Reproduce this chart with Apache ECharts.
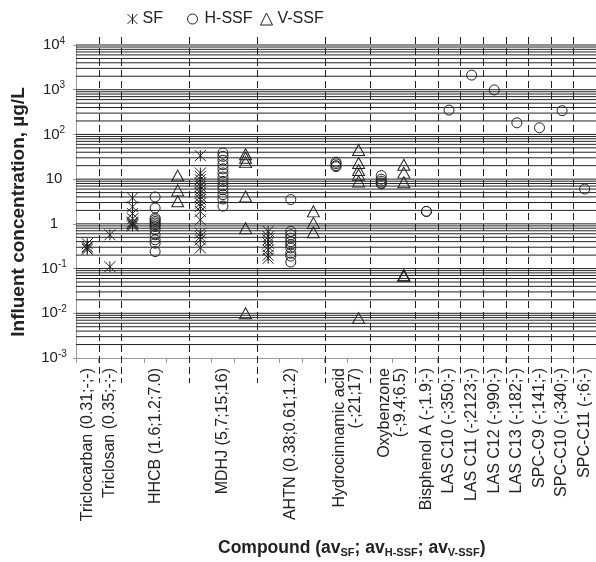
<!DOCTYPE html>
<html>
<head>
<meta charset="utf-8">
<script src="https://cdn.jsdelivr.net/npm/echarts@6/dist/echarts.min.js"></script>
<style>
  html, body { margin: 0; background: #fff; }
  #chart { width: 596px; height: 562px; }
</style>
</head>
<body>
<div id="chart"></div>
<script>
// compounds from left to right, label under the axis
var compounds = [
  "Triclocarban (0.31;-;-)",
  "Triclosan (0.35;-;-)",
  "HHCB (1.6;1.2;7.0)",
  "MDHJ (5,7;15;16)",
  "AHTN (0.38;0.61;1.2)",
  "Hydrocinnamic acid\n(-;21;17)",
  "Oxybenzone\n(-;9.4;6.5)",
  "Bisphenol A (-;1.9;-)",
  "LAS C10 (-;350;-)",
  "LAS C11 (-;2123;-)",
  "LAS C12 (-;990;-)",
  "LAS C13 (-;182;-)",
  "SPC-C9 (-;141;-)",
  "SPC-C10 (-;340;-)",
  "SPC-C11 (-;6;-)"
];

// influent concentrations (µg/L), one list per compound
var sfValues = [
  [0.36, 0.31, 0.27, 0.29],
  [0.57, 0.11],
  [3.8, 2.4, 1.7, 1.3, 1.1, 1.0, 0.9, 1.05, 0.95],
  [33.5, 13.7, 11.5, 9.7, 8.2, 6.9, 5.8, 4.9, 4.1, 3.5, 2.9, 2.45, 1.9, 1.23, 0.62, 0.52, 0.44, 0.29],
  [0.68, 0.52, 0.44, 0.37, 0.31, 0.26, 0.2, 0.17],
  [], [], [], [], [], [], [], [], [], []
];
var hssfValues = [
  [], [],
  [4.0, 2.26, 1.35, 1.24, 1.13, 1.04, 0.95, 0.87, 0.74, 0.57, 0.44, 0.37, 0.24],
  [38.5, 32.4, 26.4, 21.1, 17, 13.8, 11.2, 8.9, 7.1, 5.8, 4.5, 3.6, 2.5],
  [3.5, 0.68, 0.57, 0.48, 0.4, 0.34, 0.29, 0.22, 0.19, 0.14],
  [24, 22, 20, 19],
  [12, 10, 9, 7.8, 8.2],
  [1.9, 1.9],
  [350], [2123], [990], [182], [141], [340], [6]
];
var vssfValues = [
  [], [],
  [12, 5.6, 3.2],
  [36, 30, 24, 4.1, 0.8, 0.01],
  [1.9, 1.05, 0.65],
  [45, 23, 16, 12.6, 8.9, 0.0078],
  [21, 14, 8.5, 0.07, 0.07, 0.07],
  [], [], [], [], [], [], [], []
];

var seriesNames = ["SF", "H-SSF", "V-SSF"];
var yTickLabels = ["10{sup|-3}", "10{sup|-2}", "10{sup|-1}", "1", "10", "10{sup|2}", "10{sup|3}", "10{sup|4}"];

// one column per treatment that has data
var sets = [sfValues, hssfValues, vssfValues];
var points = [[], [], []];
var labelAt = [];
var bounds = [];
var col = 0;
compounds.forEach(function (name, i) {
  var start = col;
  sets.forEach(function (set, s) {
    if (!set[i].length) return;
    set[i].forEach(function (v) { points[s].push([col + 0.5, v]); });
    col++;
  });
  labelAt.push(start + (col - start) / 2);
  if (i > 0) bounds.push([start, 1]);
});
var xTicks = [];
for (var t = 0; t <= col; t++) xTicks.push(t);

// horizontal log grid: 1..9 in every decade
var gridLevels = [];
for (var e = -3; e <= 3; e++) {
  for (var k = 1; k <= 9; k++) {
    if (e === -3 && k === 1) continue;
    gridLevels.push([0, k * Math.pow(10, e)]);
  }
}
gridLevels.push([0, 10000]);

var font = "Liberation Sans, Arial, sans-serif";
var ink = "#222";
var star = "path://M0,0L10,10M10,0L0,10M5,0L5,10";
var symbols = [star, "circle", "triangle"];
var sizes = [11, 10, [12, 11]];

var chart = echarts.init(document.getElementById("chart"));

var scatter = seriesNames.map(function (n, s) {
  return {
    name: n,
    type: "scatter",
    z: 5,
    data: points[s],
    symbol: symbols[s],
    symbolSize: sizes[s],
    itemStyle: { color: "rgba(0,0,0,0)", borderColor: ink, borderWidth: 1, opacity: 1 }
  };
});

function legendAt(left, idx, w, h) {
  return {
    left: left,
    top: 6,
    itemWidth: w,
    itemHeight: h,
    selectedMode: false,
    textStyle: { fontSize: 16, color: ink, fontFamily: font },
    data: [{
      name: seriesNames[idx],
      icon: symbols[idx],
      itemStyle: { color: "rgba(0,0,0,0)", borderColor: ink, borderWidth: 1 }
    }]
  };
}

chart.setOption({
  animation: false,
  textStyle: { fontFamily: font },
  legend: [legendAt(122, 0, 10, 10), legendAt(182, 1, 14, 10), legendAt(255, 2, 12, 12)],
  grid: { left: 76, top: 45, width: 521, height: 313 },
  xAxis: {
    type: "value",
    min: 0,
    max: col,
    interval: 1,
    axisLine: { lineStyle: { color: "#999" } },
    axisTick: { customValues: xTicks, length: 5, lineStyle: { color: "#999" } },
    splitLine: { show: false },
    axisLabel: {
      customValues: labelAt,
      rotate: 90,
      margin: 10,
      fontSize: 16,
      color: ink,
      fontFamily: font,
      formatter: function (v) {
        var i = labelAt.indexOf(v);
        return i >= 0 ? compounds[i] : "";
      }
    }
  },
  yAxis: {
    type: "log",
    logBase: 10,
    min: 0.001,
    max: 10000,
    splitNumber: 7,
    axisLine: { show: true, lineStyle: { color: "#999" } },
    axisTick: { show: true, length: 3, lineStyle: { color: "#999" } },
    splitLine: { show: false },
    axisLabel: {
      align: "center",
      margin: 22,
      fontSize: 15,
      lineHeight: 18,
      color: ink,
      fontFamily: font,
      formatter: function (v) {
        return yTickLabels[Math.round(Math.log10(v)) + 3];
      },
      rich: {
        sup: { fontSize: 10, lineHeight: 8, verticalAlign: "top", color: ink, fontFamily: font }
      }
    }
  },
  graphic: [
    {
      type: "text",
      x: 19,
      y: 212,
      rotation: Math.PI / 2,
      style: {
        text: "Influent concentration, µg/L",
        fontSize: 19,
        fontWeight: "bold",
        fontFamily: font,
        fill: ink,
        align: "center",
        verticalAlign: "middle"
      }
    },
    {
      type: "text",
      x: 218,
      y: 538,
      style: {
        text: "Compound (av{sub|SF}; av{sub|H-SSF}; av{sub|V-SSF})",
        fontSize: 17.5,
        fontWeight: "bold",
        fontFamily: font,
        lineHeight: 20,
        fill: ink,
        rich: {
          sub: { fontSize: 11, fontWeight: "bold", lineHeight: 8, verticalAlign: "bottom", fill: ink, fontFamily: font }
        }
      }
    }
  ],
  series: [
    {
      type: "custom",
      silent: true,
      z: 1,
      data: gridLevels,
      renderItem: function (params, api) {
        var cs = params.coordSys;
        var y = api.coord([0, api.value(1)])[1];
        return {
          type: "line",
          shape: { x1: cs.x, y1: y, x2: cs.x + cs.width, y2: y },
          style: { stroke: ink, lineWidth: 1 }
        };
      }
    },
    {
      type: "custom",
      silent: true,
      z: 2,
      data: bounds,
      renderItem: function (params, api) {
        var cs = params.coordSys;
        var x = Math.round(api.coord([api.value(0), 1])[0]) + 0.5;
        return {
          type: "line",
          shape: { x1: x, y1: cs.y - 8, x2: x, y2: cs.y + cs.height + 25 },
          style: { stroke: ink, lineWidth: 1, lineDash: [7, 4] }
        };
      }
    }
  ].concat(scatter)
});
</script>
</body>
</html>
